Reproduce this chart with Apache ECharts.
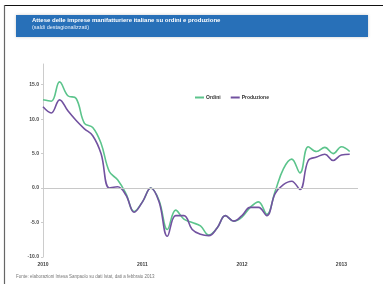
<!DOCTYPE html>
<html>
<head>
<meta charset="utf-8">
<script src="https://cdn.jsdelivr.net/npm/echarts@6/dist/echarts.min.js"></script>
<style>
  html, body { margin: 0; padding: 0; background: #fff; }
  #main { width: 383px; height: 284px; }
</style>
</head>
<body>
<div id="main"></div>
<script>
// mesi da gen 2010 a feb 2013
var months = [];
for (var y = 2010; y <= 2013; y++) {
    for (var m = 1; m <= 12; m++) {
        if (y == 2013 && m > 2) break;
        months.push(y + '-' + (m < 10 ? '0' + m : m));
    }
}
var yearLabels = ['2010', '2011', '2012', '2013'];
var yTicks = [-10, -5, 0, 5, 10, 15];

var ordini = [12.8, 12.6, 15.4, 13.4, 13.0, 9.4, 8.8, 6.5, 2.4, 1.2, -0.8, -3.4,
    -2.0, 0.0, -1.8, -6.0, -3.2, -4.5, -5.0, -5.5, -6.8, -5.8, -4.0, -4.8,
    -4.2, -2.8, -2.0, -3.8, -0.5, 2.8, 4.2, 2.2, 6.0, 5.3, 5.9, 5.0,
    6.0, 5.3];
var produzione = [11.8, 10.9, 12.8, 11.2, 9.8, 8.6, 7.6, 5.0, 0.0, 0.2, -1.0, -3.5,
    -2.0, 0.0, -2.0, -7.0, -4.0, -4.0, -6.0, -6.7, -6.9, -5.8, -4.0, -4.8,
    -4.0, -2.8, -2.8, -4.0, -0.8, 0.5, 1.0, -0.2, 4.0, 4.5, 4.9, 4.0,
    4.8, 4.9];

function pairs(arr) {
    var out = [];
    for (var i = 0; i < arr.length; i++) out.push([i, arr[i]]);
    return out;
}

var myChart = echarts.init(document.getElementById('main'));

var option = {
    backgroundColor: '#fff',
    animation: false,
    graphic: [
        // cornice
        { type: 'line', shape: { x1: 4, y1: 5.5, x2: 383, y2: 5.5 }, style: { stroke: '#111', lineWidth: 1.2 } },
        { type: 'line', shape: { x1: 4.5, y1: 5, x2: 4.5, y2: 284 }, style: { stroke: '#666', lineWidth: 1.2 } },
        // box titolo
        { type: 'rect', shape: { x: 16, y: 15, width: 352, height: 22 }, style: { fill: '#2870b8', shadowBlur: 3, shadowColor: 'rgba(0,0,0,0.2)' }, z: -1 },
        { type: 'text', left: 16, top: 274, style: { text: 'Fonte: elaborazioni Intesa Sanpaolo su dati Istat, dati a febbraio 2013', fill: '#777', font: '4.5px Arial' } }
    ],
    title: {
        text: 'Attese delle imprese manifatturiere italiane su ordini e produzione',
        subtext: '(saldi destagionalizzati)',
        left: 28,
        top: 15,
        padding: [2, 4],
        itemGap: 1,
        textStyle: { color: '#fff', fontSize: 6, fontWeight: 'bold', fontFamily: 'Arial' },
        subtextStyle: { color: '#e8f0fa', fontSize: 5.5, fontFamily: 'Arial' }
    },
    legend: {
        left: 190,
        top: 90,
        itemWidth: 9,
        itemHeight: 2,
        itemGap: 10,
        icon: 'rect',
        textStyle: { fontSize: 5, fontWeight: 'bold', color: '#333', padding: [0, 0, 0, -3] },
        data: ['Ordini', 'Produzione']
    },
    grid: { left: 43, right: 25, top: 64, bottom: 27 },
    xAxis: {
        type: 'value',
        min: 0,
        max: 38,
        interval: 12,
        axisLine: { show: false },
        axisTick: { show: false },
        splitLine: { show: false },
        axisLabel: {
            showMaxLabel: false,
            fontSize: 5,
            fontWeight: 'bold',
            color: '#444',
            margin: 5,
            formatter: function (v) { return yearLabels[v / 12] || ''; }
        }
    },
    yAxis: {
        type: 'value',
        min: yTicks[0],
        max: 18,
        interval: 5,
        axisLine: { show: true, lineStyle: { color: '#ccc', width: 1 } },
        axisTick: { show: true, length: 2, lineStyle: { color: '#ccc' } },
        splitLine: { show: false },
        axisLabel: {
            showMaxLabel: false,
            fontSize: 5,
            fontWeight: 'bold',
            color: '#444',
            margin: 4,
            formatter: function (v) { return v.toFixed(1); }
        }
    },
    series: [
        {
            name: 'Ordini',
            type: 'line',
            smooth: 0.4,
            showSymbol: false,
            data: pairs(ordini),
            lineStyle: { color: '#5cc48c', width: 1.6 },
            itemStyle: { color: '#5cc48c' },
            markLine: {
                silent: true,
                symbol: 'none',
                label: { show: false },
                lineStyle: { color: '#c8c8c8', type: 'solid', width: 1 },
                data: [{ yAxis: 0 }]
            }
        },
        {
            name: 'Produzione',
            type: 'line',
            smooth: 0.4,
            showSymbol: false,
            data: pairs(produzione),
            lineStyle: { color: '#7252a0', width: 1.6 },
            itemStyle: { color: '#7252a0' }
        }
    ]
};

myChart.setOption(option);
</script>
</body>
</html>
